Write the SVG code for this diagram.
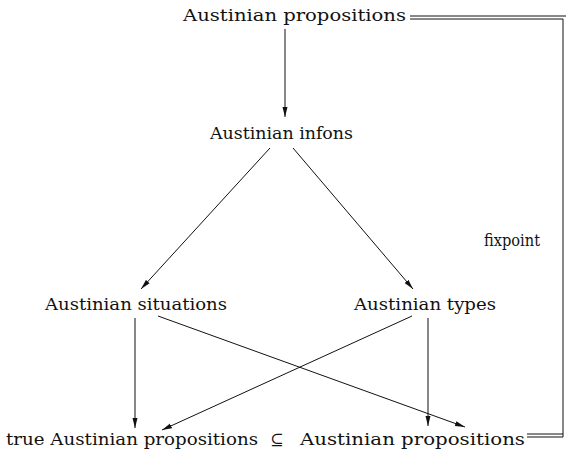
<svg xmlns="http://www.w3.org/2000/svg" width="566" height="459" viewBox="0 0 566 459">
<style>
text{font-family:"DejaVu Serif","Liberation Serif",serif;font-size:16px;fill:#111}
.c line,.c path{stroke:#111;stroke-width:1;fill:none}
.a{marker-end:url(#ah)}
</style>
<defs>
<marker id="ah" viewBox="0 0 10 6" refX="10" refY="3" markerWidth="10" markerHeight="6" markerUnits="userSpaceOnUse" orient="auto">
<path d="M0,0.5 L10,3 L0,5.5 z" fill="#111"/>
</marker>
</defs>
<rect width="566" height="459" fill="#fff"/>
<g id="n-top"><text x="183" y="21" textLength="223" lengthAdjust="spacingAndGlyphs">Austinian propositions</text></g>
<g id="n-infons"><text x="210" y="139" textLength="143" lengthAdjust="spacingAndGlyphs">Austinian infons</text></g>
<g id="n-situations"><text x="45" y="310" textLength="182" lengthAdjust="spacingAndGlyphs">Austinian situations</text></g>
<g id="n-types"><text x="354" y="310" textLength="142" lengthAdjust="spacingAndGlyphs">Austinian types</text></g>
<g id="n-true"><text x="6" y="445" textLength="252" lengthAdjust="spacingAndGlyphs">true Austinian propositions</text></g>
<g id="n-subset"><text x="270" y="445" font-size="17">⊆</text></g>
<g id="n-props"><text x="300" y="445" textLength="225" lengthAdjust="spacingAndGlyphs">Austinian propositions</text></g>
<g id="n-fixpoint"><text x="484" y="246" textLength="56" lengthAdjust="spacingAndGlyphs">fixpoint</text></g>
<g class="c" id="connectors">
<line class="a" x1="285" y1="29" x2="285" y2="117"/>
<line class="a" x1="270" y1="148" x2="141" y2="289"/>
<line class="a" x1="293" y1="148" x2="413" y2="289"/>
<line class="a" x1="135" y1="318" x2="135" y2="428"/>
<line class="a" x1="158" y1="316" x2="465" y2="427"/>
<line class="a" x1="412" y1="316" x2="162" y2="430"/>
<line class="a" x1="428" y1="318" x2="428" y2="426"/>
<path d="M410,16 H566 M410,19 H563 V437 M527,434 H563 M527,437 H563"/>
</g>
</svg>
